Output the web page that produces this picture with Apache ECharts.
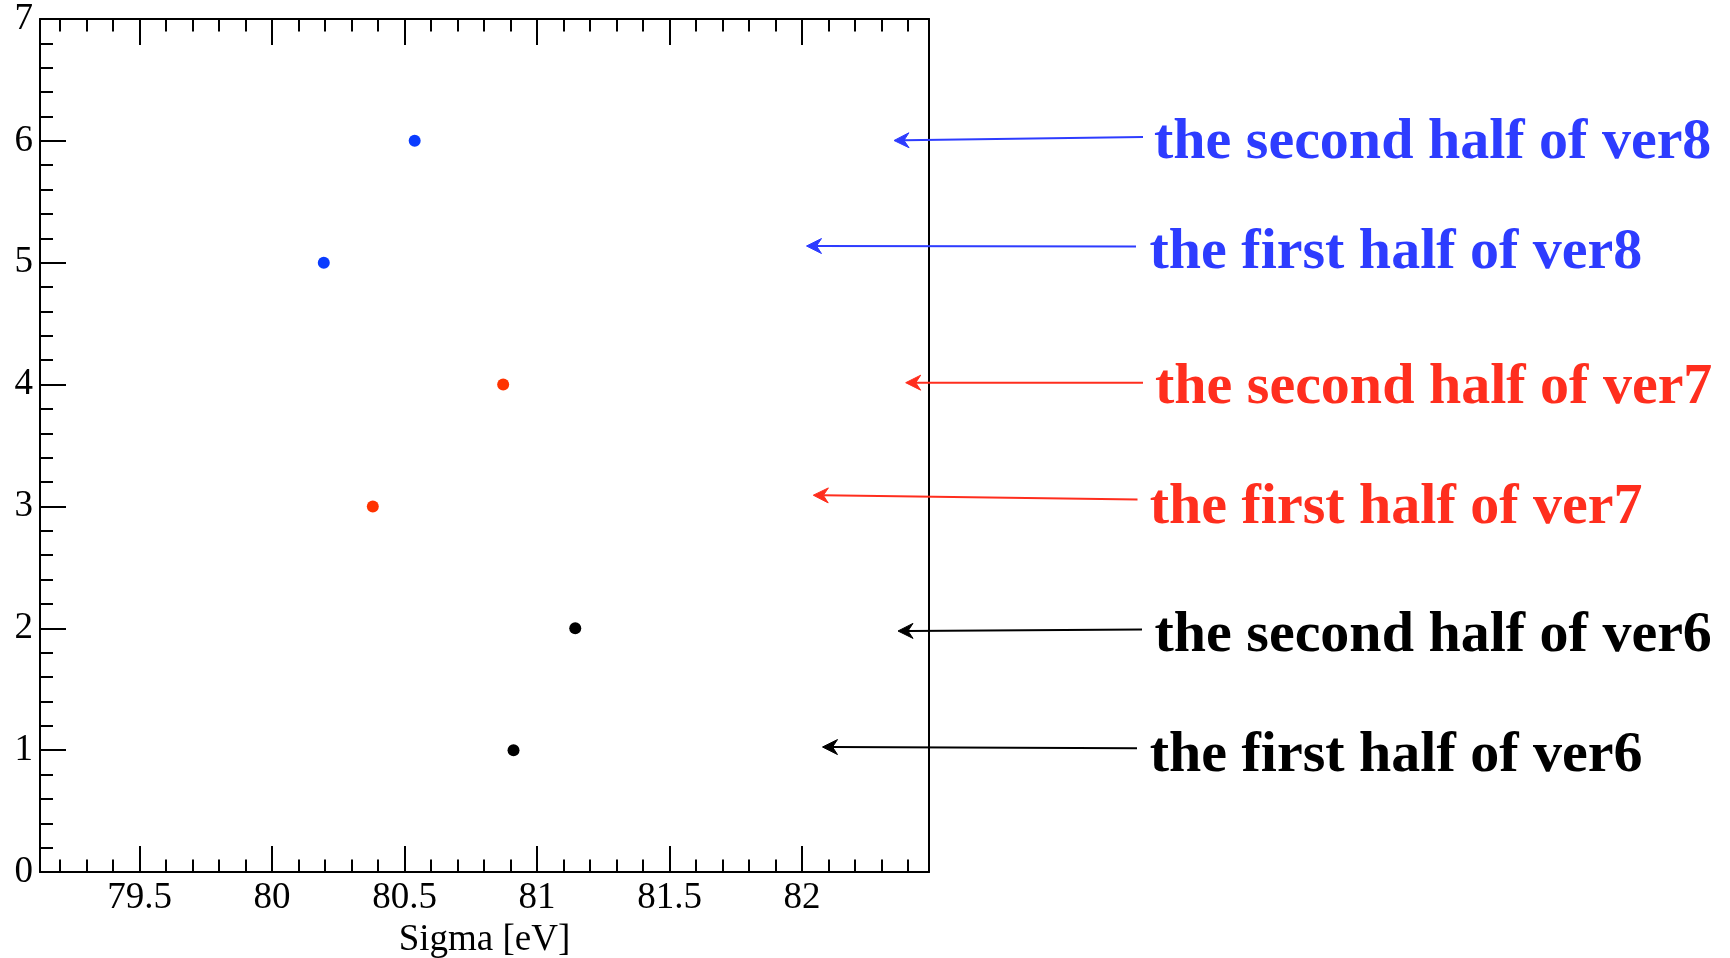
<!DOCTYPE html>
<html>
<head>
<meta charset="utf-8">
<script src="https://cdn.jsdelivr.net/npm/echarts@6/dist/echarts.min.js"></script>
<style>
html,body{margin:0;padding:0;background:#ffffff;}
#c{width:1730px;height:958px;}
</style>
</head>
<body>
<div id="c"></div>
<script>
// ---- data ----
const ver6Sigma = [80.911, 81.144];
const ver6Y = [1, 2];
const ver7Sigma = [80.380, 80.872];
const ver7Y = [3, 4];
const ver8Sigma = [80.195, 80.538];
const ver8Y = [5, 6];
const labelTexts = [
  'the first half of ver6', 'the second half of ver6',
  'the first half of ver7', 'the second half of ver7',
  'the first half of ver8', 'the second half of ver8'
];
const xMajorTicks = [79.5, 80, 80.5, 81, 81.5, 82];
const xMinorTicks = [79.2, 79.3, 79.4, 79.6, 79.7, 79.8, 79.9, 80.1, 80.2, 80.3, 80.4,
  80.6, 80.7, 80.8, 80.9, 81.1, 81.2, 81.3, 81.4, 81.6, 81.7, 81.8, 81.9,
  82.1, 82.2, 82.3, 82.4];
const xMin = 79.124, xMax = 82.479;
const yMin = 0, yMax = 7;

// ---- styling ----
const FONT = '"Liberation Serif", "Times New Roman", serif';
const BLUE_PT = '#0a3cff', RED_PT = '#ff3300', BLACK = '#000000';
const BLUE_TXT = '#2d3cff', RED_TXT = '#ff2e1e';

function pairs(xs, ys) { return xs.map((x, i) => [x, ys[i]]); }

const chart = echarts.init(document.getElementById('c'), null, {renderer: 'canvas'});

const lineStyle = {color: BLACK, width: 2};
function xAxisDef(pos, ticks, len, showLine, showLabel) {
  return {
    type: 'value', position: pos, min: xMin, max: xMax,
    axisLine: {show: showLine, onZero: false, lineStyle: lineStyle},
    axisTick: {show: true, inside: true, length: len, customValues: ticks, lineStyle: lineStyle},
    axisLabel: showLabel ? {show: true, customValues: ticks, margin: 8, fontFamily: FONT, fontSize: 37, color: BLACK} : {show: false},
    splitLine: {show: false}
  };
}

const xAxes = [
  Object.assign(xAxisDef('bottom', xMajorTicks, 26, true, true), {
    name: 'Sigma [eV]', nameLocation: 'middle', nameGap: 48.5,
    nameTextStyle: {fontFamily: FONT, fontSize: 37, color: BLACK}
  }),
  xAxisDef('bottom', xMinorTicks, 12.5, false, false),
  xAxisDef('top', xMajorTicks, 26, true, false),
  xAxisDef('top', xMinorTicks, 12.5, false, false)
];

const yAxes = [
  {
    type: 'value', position: 'left', min: yMin, max: yMax, interval: 1,
    axisLine: {show: true, onZero: false, lineStyle: lineStyle},
    axisTick: {show: true, inside: true, length: 26, lineStyle: lineStyle},
    minorTick: {show: true, splitNumber: 5, length: 13, lineStyle: lineStyle},
    axisLabel: {show: true, margin: 7, fontFamily: FONT, fontSize: 37, color: BLACK},
    splitLine: {show: false}
  },
  {
    type: 'value', position: 'right', min: yMin, max: yMax, interval: 1,
    axisLine: {show: true, onZero: false, lineStyle: lineStyle},
    axisTick: {show: false}, axisLabel: {show: false}, splitLine: {show: false}
  }
];

function scatter(name, xs, ys, color) {
  return {
    name: name, type: 'scatter', xAxisIndex: 0, yAxisIndex: 0,
    data: pairs(xs, ys), symbol: 'circle', symbolSize: 12,
    itemStyle: {color: color, opacity: 1}, z: 5, silent: true
  };
}

// annotation layout (pixel positions of the label texts and arrows)
const annColors = [BLACK, BLACK, RED_TXT, RED_TXT, BLUE_TXT, BLUE_TXT];
const annTextX = [1149.7, 1154.5, 1149.7, 1155, 1149.5, 1154];
const annBaseline = [770, 650, 521.7, 401.7, 266.7, 156.7];
const arrowFrom = [[1137, 748.3], [1142, 629.5], [1137.5, 499.5], [1143, 382.7], [1136, 246.5], [1143, 137]];
const arrowTip = [[822.5, 747], [898, 631], [813.3, 495.2], [905.7, 382.7], [806.5, 246], [894, 140.5]];

const graphics = [];
for (let i = 0; i < labelTexts.length; i++) {
  const c = annColors[i];
  graphics.push({
    type: 'text', x: annTextX[i], y: annBaseline[i] - 14, z: 10,
    style: {text: labelTexts[i], font: 'bold 58px ' + FONT, fill: c, align: 'left', verticalAlign: 'middle'}
  });
  const [x1, y1] = arrowFrom[i], [x2, y2] = arrowTip[i];
  const dx = x1 - x2, dy = y1 - y2, L = Math.hypot(dx, dy);
  const ux = dx / L, uy = dy / L, px = -uy, py = ux;
  const hl = 15, hw = 7.5, notch = 10;
  graphics.push({
    type: 'line', z: 10,
    shape: {x1: x1, y1: y1, x2: x2 + ux * notch, y2: y2 + uy * notch},
    style: {stroke: c, lineWidth: 2}
  });
  graphics.push({
    type: 'polygon', z: 10,
    shape: {points: [
      [x2, y2],
      [x2 + ux * hl + px * hw, y2 + uy * hl + py * hw],
      [x2 + ux * notch, y2 + uy * notch],
      [x2 + ux * hl - px * hw, y2 + uy * hl - py * hw]
    ]},
    style: {fill: c, stroke: c, lineWidth: 1}
  });
}

chart.setOption({
  backgroundColor: '#ffffff',
  animation: false,
  grid: {left: 40, right: 801, top: 19, bottom: 86, containLabel: false, outerBoundsMode: 'none'},
  xAxis: xAxes,
  yAxis: yAxes,
  series: [
    scatter('ver6', ver6Sigma, ver6Y, BLACK),
    scatter('ver7', ver7Sigma, ver7Y, RED_PT),
    scatter('ver8', ver8Sigma, ver8Y, BLUE_PT)
  ],
  graphic: graphics
});
</script>
</body>
</html>
